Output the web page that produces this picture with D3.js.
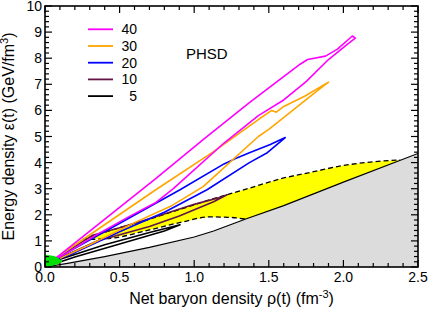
<!DOCTYPE html>
<html>
<head>
<meta charset="utf-8">
<script src="https://cdn.jsdelivr.net/npm/d3@7"></script>
<style>
  body { margin: 0; background: #fff; }
  svg { display: block; font-family: Arial, "Liberation Sans", sans-serif; }
</style>
</head>
<body>
<svg id="main-svg" width="429" height="309"></svg>
<script>
// collision energies (AGeV) shown in the legend
const energies = ["40", "30", "20", "10", "5"];

// trajectories rho(t), eps(t): up the upper branch, back down the lower one
const traj40 = [[0.05,0.25],[0.1,0.46],[0.74,3.38],[1.06,4.88],[1.37,6.3],[1.575,7.19],[1.71,7.77],[1.76,7.95],[1.88,8.08],[1.96,8.35],[2.06,8.85],[2.08,8.77],
  [2.03,8.55],[1.9,7.95],[1.75,7.1],[1.6,6.4],[1.43,5.8],[1.2,4.75],[0.86,3.0],[0.74,2.46],[0.56,1.92],[0.35,1.25],[0.15,0.55],[0.07,0.3]];
const traj30 = [[0.05,0.25],[0.1,0.45],[0.74,2.95],[1.13,4.42],[1.43,5.65],[1.52,6.0],[1.55,5.93],[1.6,6.15],[1.74,6.54],[1.84,6.88],[1.9,7.08],
  [1.82,6.73],[1.5,5.27],[1.43,5.0],[1.06,3.08],[0.85,2.35],[0.6,1.7],[0.3,0.85],[0.1,0.33]];
const traj20 = [[0.05,0.25],[0.1,0.4],[0.905,2.96],[1.2,3.95],[1.29,4.19],[1.37,4.38],[1.51,4.69],[1.61,4.96],
  [1.49,4.38],[1.37,4.0],[1.086,2.96],[0.8,2.1],[0.5,1.35],[0.2,0.55],[0.08,0.28]];
const traj10 = [[0.05,0.25],[0.12,0.5],[0.32,1.22],[0.5,1.5],[0.7,1.85],[1.0,2.4],[1.19,2.69],[1.22,2.77],
  [1.13,2.5],[0.9,1.95],[0.7,1.55],[0.35,1.0],[0.12,0.4],[0.06,0.25]];
const traj5 = [[0.05,0.2],[0.4,0.85],[0.7,1.32],[0.905,1.62],
  [0.8,1.38],[0.5,0.88],[0.2,0.38],[0.08,0.15]];
const trajectories = [traj40, traj30, traj20, traj10, traj5];

// T = 0 nuclear matter boundary (grey region below it)
const groundCurve = [[0,0],[0.16,0.15],[0.4,0.4],[0.7,0.75],[1.0,1.15],[1.13,1.38],[1.35,1.85],[1.6,2.35],[2.0,3.25],[2.5,4.35]];
// mixed phase boundaries (dashed)
const upperDashed = [[0.25,1.05],[0.45,1.42],[0.67,1.78],[0.9,2.2],[1.13,2.62],[1.37,3.02],[1.58,3.38],[1.8,3.65],[1.99,3.88],[2.18,4.02],[2.38,4.1]];
const lowerDashed = [[0.25,1.05],[0.44,1.1],[0.7,1.42],[0.925,1.73],[1.1,1.92],[1.24,1.9],[1.35,1.83]];
// green spot near origin
const greenSpot = [[0,0.02],[0,0.42],[0.03,0.45],[0.07,0.4],[0.1,0.3],[0.115,0.22],[0.09,0.12],[0.05,0.05],[0.02,0.0]];

// axis ticks
const xTicks = [0, 0.5, 1.0, 1.5, 2.0, 2.5];
const yTicks = [0, 1, 2, 3, 4, 5, 6, 7, 8, 9, 10];

const svg = d3.select("#main-svg");
const margin = { top: 6, right: 11, bottom: 42, left: 45 };
const width = 429 - margin.left - margin.right,
      height = 309 - margin.top - margin.bottom;

const x = d3.scaleLinear().domain([0, 2.5]).range([0, width]);
const y = d3.scaleLinear().domain([0, 10]).range([height, 0]);

const color = d3.scaleOrdinal()
  .domain(energies)
  .range(["#ff00ff", "#ffa500", "#0000ff", "#641446", "#000000"]);

const g = svg.append("g").attr("transform", `translate(${margin.left},${margin.top})`);

g.append("clipPath").attr("id", "clip")
  .append("rect").attr("width", width).attr("height", height);

const plot = g.append("g").attr("clip-path", "url(#clip)");
const line = d3.line().x(d => x(d[0])).y(d => y(d[1]));

// grey area under the ground-state curve
const greyArea = d3.area().x(d => x(d[0])).y0(height).y1(d => y(d[1]));
plot.append("path").datum(groundCurve)
  .attr("d", greyArea).attr("fill", "#dcdcdc");

// yellow mixed-phase region
const endPt = upperDashed[upperDashed.length - 1];
const kink = lowerDashed[lowerDashed.length - 1];
const groundPart = groundCurve.filter(d => d[0] > kink[0] && d[0] < endPt[0]).reverse();
const yellowPoly = upperDashed.concat(groundPart, lowerDashed.slice().reverse());
plot.append("path").datum(yellowPoly)
  .attr("d", line).attr("fill", "#ffff00");

plot.append("path").datum(groundCurve)
  .attr("d", line).attr("fill", "none").attr("stroke", "#000").attr("stroke-width", 1.2);

[upperDashed, lowerDashed].forEach(pts => {
  plot.append("path").datum(pts)
    .attr("d", line.curve(d3.curveMonotoneX))
    .attr("fill", "none").attr("stroke", "#000")
    .attr("stroke-width", 1.3).attr("stroke-dasharray", "5,3");
});
line.curve(d3.curveLinear);

// trajectories, lowest energy first
trajectories.map((t, i) => ({ e: energies[i], pts: t })).reverse().forEach(d => {
  plot.append("path").datum(d.pts)
    .attr("d", line)
    .attr("fill", "none")
    .attr("stroke", color(d.e))
    .attr("stroke-width", 1.6)
    .attr("stroke-linejoin", "round");
});

// green spot
plot.append("path").datum(greenSpot)
  .attr("d", d3.line().x(d => x(d[0])).y(d => y(d[1])).curve(d3.curveCardinalClosed))
  .attr("fill", "#00e000");

// frame and ticks (inward, all four sides)
g.append("rect").attr("width", width).attr("height", height)
  .attr("fill", "none").attr("stroke", "#000").attr("stroke-width", 1.6);

const xMinor = d3.range(0, 2.501, 0.1);
const yMinor = d3.range(0, 10.001, 0.2);
const ticks = g.append("g").attr("stroke", "#000").attr("stroke-width", 1.2);
xMinor.forEach(v => {
  const major = xTicks.some(t => Math.abs(t - v) < 1e-6);
  const len = major ? 7 : 4;
  ticks.append("line").attr("x1", x(v)).attr("x2", x(v)).attr("y1", height).attr("y2", height - len);
  ticks.append("line").attr("x1", x(v)).attr("x2", x(v)).attr("y1", 0).attr("y2", len);
});
yMinor.forEach(v => {
  const major = yTicks.some(t => Math.abs(t - v) < 1e-6);
  const len = major ? 7 : 4;
  ticks.append("line").attr("y1", y(v)).attr("y2", y(v)).attr("x1", 0).attr("x2", len);
  ticks.append("line").attr("y1", y(v)).attr("y2", y(v)).attr("x1", width).attr("x2", width - len);
});

// tick labels
g.selectAll(".xlab").data(xTicks).enter().append("text")
  .attr("x", d => x(d)).attr("y", height + 15)
  .attr("text-anchor", "middle").attr("font-size", "14px")
  .text(d => d.toFixed(1));
g.selectAll(".ylab").data(yTicks).enter().append("text")
  .attr("x", -3).attr("y", d => y(d) + 5)
  .attr("text-anchor", "end").attr("font-size", "14px")
  .text(d => d);

// axis titles
const xt = g.append("text")
  .attr("x", width / 2).attr("y", height + 37)
  .attr("text-anchor", "middle").attr("font-size", "16px");
xt.append("tspan").text("Net baryon density ρ(t) (fm");
xt.append("tspan").attr("dy", -6).attr("font-size", "11px").text("-3");
xt.append("tspan").attr("dy", 6).text(")");

const yt = g.append("text")
  .attr("transform", `translate(${-31},${height / 2}) rotate(-90)`)
  .attr("text-anchor", "middle").attr("font-size", "16px");
yt.append("tspan").text("Energy density ε(t) (GeV/fm");
yt.append("tspan").attr("dy", -6).attr("font-size", "11px").text("3");
yt.append("tspan").attr("dy", 6).text(")");

// legend
const legend = g.selectAll(".leg").data(energies).enter().append("g")
  .attr("transform", (d, i) => `translate(43,${23.3 + i * 16.7})`);
legend.append("line").attr("x1", 0).attr("x2", 25)
  .attr("stroke", d => color(d)).attr("stroke-width", 1.8);
legend.append("text").attr("x", 49).attr("y", 5)
  .attr("text-anchor", "end").attr("font-size", "14px")
  .text(d => d);

g.append("text").attr("x", 141).attr("y", 53)
  .attr("font-size", "15px").text("PHSD");
</script>
</body>
</html>
